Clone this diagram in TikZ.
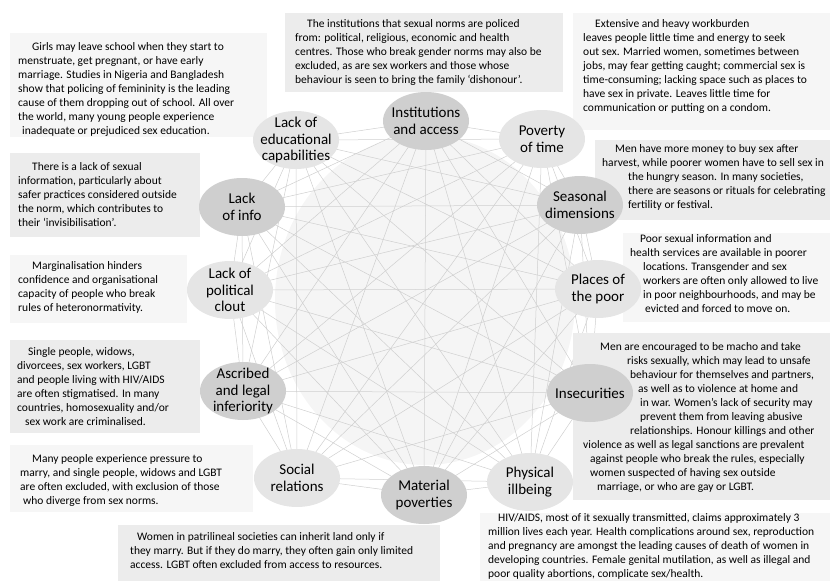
\documentclass[tikz,border=0pt]{standalone}
\usepackage{fontspec}
\setmainfont{Carlito}
\usetikzlibrary{shapes.geometric,backgrounds,positioning}

\tikzset{
  area/.style={ellipse,inner xsep=-6pt,inner ysep=-3pt,minimum width=86pt,minimum height=58pt,align=center,font=\fontsize{15}{16.5}\selectfont},
  areadark/.style={area,fill=gray!38},
  arealight/.style={area,fill=gray!20},
  boxdark/.style={fill=gray!15},
  boxlight/.style={fill=gray!7},
  note/.style={anchor=north west,inner sep=0pt,align=left,font=\fontsize{11.5}{14}\selectfont},
  web/.style={draw=gray!38,line width=0.5pt}
}

\begin{document}
\begin{tikzpicture}[x=1pt,y=-1pt]
\useasboundingbox (0,0) rectangle (830,581);

\fill[boxlight] (10,33) rectangle (267,137);
\fill[boxdark] (285,13) rectangle (563,92);
\fill[boxlight] (573,13) rectangle (830,130);
\fill[boxdark] (10,153) rectangle (200,237);
\fill[boxlight] (10,255) rectangle (187,323);
\fill[boxdark] (10,340) rectangle (200,433);
\fill[boxlight] (10,445) rectangle (253,512);
\fill[boxdark] (118,525) rectangle (440,581);
\fill[boxlight] (480,513) rectangle (830,581);
\fill[boxdark] (573,333) rectangle (830,500);
\fill[boxlight] (623,233) rectangle (830,322);
\fill[boxdark] (595,140) rectangle (830,220);

\node[note] (nedu) at (18,42.5) {\hspace*{14pt}Girls may leave school when they start to\\
menstruate, get pregnant, or have early\\
marriage. Studies in Nigeria and Bangladesh\\
show that policing of femininity is the leading\\
cause of them dropping out of school. All over\\
the world, many young people experience\\
\hspace*{4pt}inadequate or prejudiced sex education.};

\node[note] (ninst) at (295,19.5) {\hspace*{12pt}The institutions that sexual norms are policed\\
from: political, religious, economic and health\\
centres. Those who break gender norms may also be\\
excluded, as are sex workers and those whose\\
behaviour is seen to bring the family `dishonour'.};

\node[note] (ntime) at (583,19.5) {\hspace*{12pt}Extensive and heavy workburden\\
leaves people little time and energy to seek\\
out sex. Married women, sometimes between\\
jobs, may fear getting caught; commercial sex is\\
time-consuming; lacking space such as places to\\
have sex in private. Leaves little time for\\
communication or putting on a condom.};

\node[note] (ninfo) at (18,162.5) {\hspace*{14pt}There is a lack of sexual\\
information, particularly about\\
safer practices considered outside\\
the norm, which contributes to\\
their `invisibilisation'.};

\node[note] (npol) at (18,261.5) {\hspace*{14pt}Marginalisation hinders\\
confidence and organisational\\
capacity of people who break\\
rules of heteronormativity.};

\node[note] (nasc) at (17,347.5) {\hspace*{11pt}Single people, widows,\\
divorcees, sex workers, LGBT\\
and people living with HIV/AIDS\\
are often stigmatised. In many\\
countries, homosexuality and/or\\
\hspace*{8pt}sex work are criminalised.};

\node[note] (nsoc) at (20,454.5) {\hspace*{12pt}Many people experience pressure to\\
marry, and single people, widows and LGBT\\
are often excluded, with exclusion of those\\
\hspace*{3pt}who diverge from sex norms.};

\node[note] (nmat) at (130,532.5) {\hspace*{7pt}Women in patrilineal societies can inherit land only if\\
they marry. But if they do marry, they often gain only limited\\
access. LGBT often excluded from access to resources.};

\node[note] (nill) at (488,513) {\hspace*{10pt}HIV/AIDS, most of it sexually transmitted, claims approximately 3\\
million lives each year. Health complications around sex, reproduction\\
and pregnancy are amongst the leading causes of death of women in\\
developing countries. Female genital mutilation, as well as illegal and\\
poor quality abortions, complicate sex/health.};

\node[note] (ninsec) at (583,342.5) {\hspace*{17pt}Men are encouraged to be macho and take\\
\hspace*{44pt}risks sexually, which may lead to unsafe\\
\hspace*{47pt}behaviour for themselves and partners,\\
\hspace*{55pt}as well as to violence at home and\\
\hspace*{57pt}in war. Women's lack of security may\\
\hspace*{57pt}prevent them from leaving abusive\\
\hspace*{47pt}relationships. Honour killings and other\\
violence as well as legal sanctions are prevalent\\
\hspace*{7pt}against people who break the rules, especially\\
\hspace*{7pt}women suspected of having sex outside\\
\hspace*{14pt}marriage, or who are gay or LGBT.};

\node[note] (nplace) at (630,234.5) {\hspace*{10pt}Poor sexual information and\\
health services are available in poorer\\
\hspace*{13pt}locations. Transgender and sex\\
\hspace*{13pt}workers are often only allowed to live\\
\hspace*{13pt}in poor neighbourhoods, and may be\\
\hspace*{15pt}evicted and forced to move on.};

\node[note] (nseas) at (602,144.5) {\hspace*{13pt}Men have more money to buy sex after\\
harvest, while poorer women have to sell sex in\\
\hspace*{26pt}the hungry season. In many societies,\\
\hspace*{26pt}there are seasons or rituals for celebrating\\
\hspace*{26pt}fertility or festival.};

\foreach \n/\x/\y/\t in {inst/426/121/{Institutions\\and access},seas/580/205/{Seasonal\\dimensions},insec/590/393/{Insecurities},mat/424/495/{Material\\poverties},asc/243/391/{Ascribed\\and legal\\inferiority},info/242/207/{Lack\\of info}}
  \node[areadark] (\n) at (\x,\y) {\t};

\foreach \n/\x/\y/\t in {time/542/139/{Poverty\\of time},place/598/289/{Places of\\the poor},ill/530/482/{Physical\\illbeing},soc/297/478/{Social\\relations},pol/230/290/{Lack of\\political\\clout},edu/296/140/{Lack of\\educational\\capabilities}}
  \node[arealight] (\n) at (\x,\y) {\t};

\begin{scope}[on background layer]
\fill[gray!8] (425,300) ellipse [x radius=150pt,y radius=165pt];
\foreach \a [count=\i] in {inst,time,seas,place,insec,ill,mat,soc,asc,pol,info,edu}
  \foreach \b [count=\j] in {inst,time,seas,place,insec,ill,mat,soc,asc,pol,info,edu}
    {\ifnum\j>\i \draw[web] (\a.center) -- (\b.center); \fi}
\end{scope}

\end{tikzpicture}
\end{document}
